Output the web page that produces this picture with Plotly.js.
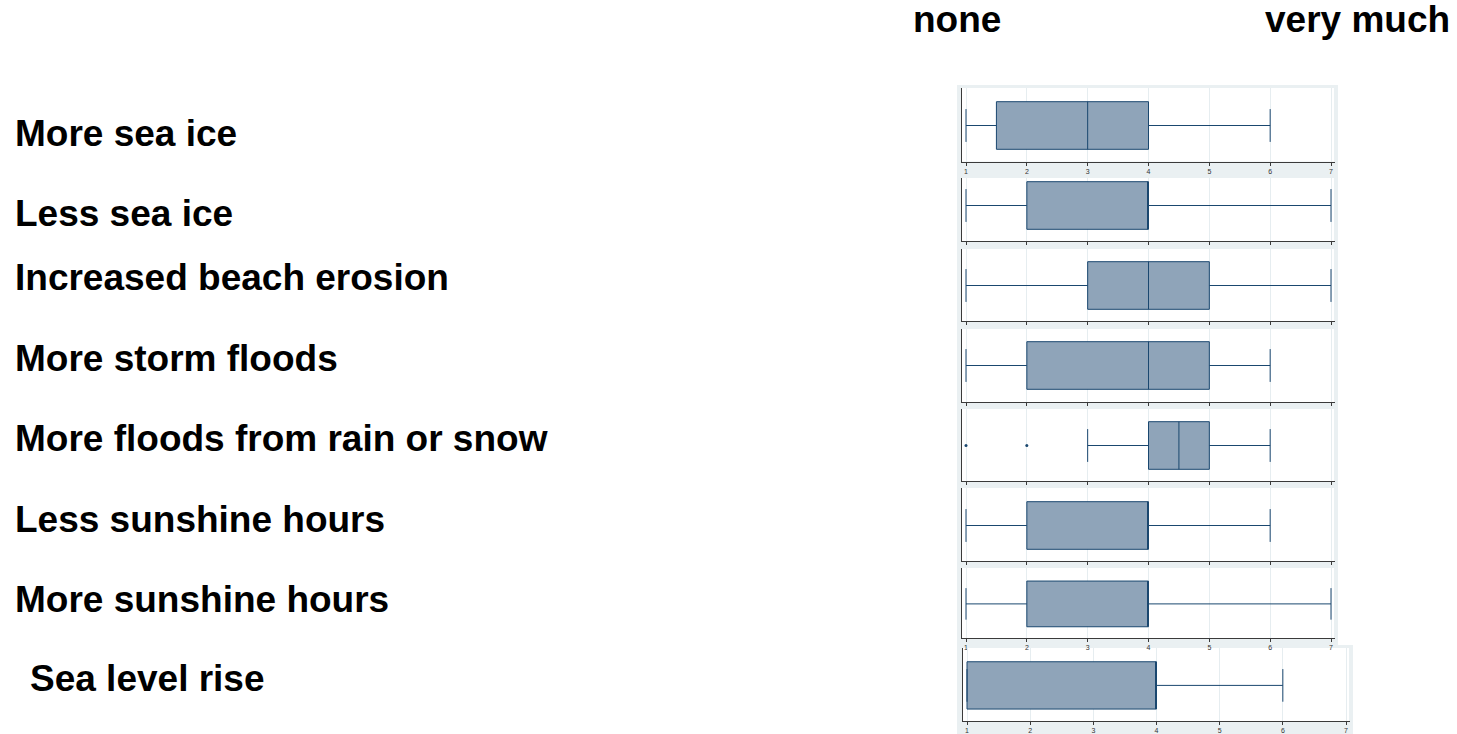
<!DOCTYPE html>
<html>
<head>
<meta charset="utf-8">
<script src="https://cdn.plot.ly/plotly-3.0.1.min.js"></script>
<style>
  html, body { margin: 0; padding: 0; background: #ffffff; }
  #chart { width: 1457px; height: 734px; }
</style>
</head>
<body>
<div id="chart"></div>
<script>
// Survey items, one small box plot per item (answer scale 1 = none ... 7 = very much)
const categories = [
  'More sea ice',
  'Less sea ice',
  'Increased beach erosion',
  'More storm floods',
  'More floods from rain or snow',
  'Less sunshine hours',
  'More sunshine hours',
  'Sea level rise'
];
const lowerFence = [1, 1, 1, 1, 3, 1, 1, 1];
const q1         = [1.5, 2, 3, 2, 4, 2, 2, 1];
const median     = [3, 4, 4, 4, 4.5, 4, 4, 4];
const q3         = [4, 4, 5, 5, 5, 4, 4, 4];
const upperFence = [6, 7, 7, 6, 6, 6, 7, 6];
const outliers   = [[], [], [], [], [1, 2], [], [], []];
const scaleTicks = [1, 2, 3, 4, 5, 6, 7];
const scaleEnds  = ['none', 'very much'];

// Page geometry (pixels)
const W = 1457, H = 734;
// per panel: plot left/right, plot top, axis-line bottom, box centre, box height, label x/y
const panels = [
  {x0: 962, x1: 1335, top: 88,  bot: 161.5, c: 125.5, h: 47.6, lx: 13, ly: 133, labels: true},
  {x0: 962, x1: 1335, top: 178, bot: 241,   c: 205.5, h: 47.6, lx: 13, ly: 213, labels: false},
  {x0: 962, x1: 1335, top: 249, bot: 321,   c: 285.5, h: 47.6, lx: 13, ly: 278, labels: false},
  {x0: 962, x1: 1335, top: 329, bot: 402,   c: 365.5, h: 47.6, lx: 13, ly: 358, labels: false},
  {x0: 962, x1: 1335, top: 409, bot: 481,   c: 445.5, h: 47.6, lx: 13, ly: 438, labels: false},
  {x0: 962, x1: 1335, top: 488, bot: 561,   c: 525.5, h: 47.6, lx: 13, ly: 519, labels: false},
  {x0: 962, x1: 1335, top: 568, bot: 638,   c: 603.9, h: 45.7, lx: 13, ly: 599, labels: true},
  {x0: 963, x1: 1350, top: 648, bot: 721,   c: 685.4, h: 47.3, lx: 28, ly: 678, labels: true}
];
// pixel position of the value 1 and 7 on each panel's scale
const scalePx = [
  [966, 1331], [966, 1331], [966, 1331], [966, 1331],
  [966, 1331], [966, 1331], [966, 1331], [967, 1346]
];

const NAVY = '#1a476f';
const FILL = '#8fa4b9';
const FRAME = '#eaf0f2';
const GRID = '#e6edf0';
const AXIS = '#3a3a3a';
const FONT = 'Liberation Sans, Arial, sans-serif';
const LABEL_SIZE = 37;

const traces = [];
const layout = {
  width: W, height: H,
  margin: {l: 0, r: 0, t: 0, b: 0},
  paper_bgcolor: '#ffffff',
  plot_bgcolor: 'rgba(0,0,0,0)',
  showlegend: false,
  font: {family: FONT, color: '#000'},
  shapes: [
    // light frame behind the stacked panels
    {type: 'rect', xref: 'paper', yref: 'paper', layer: 'below',
     x0: 957 / W, x1: 1338 / W, y0: 1 - 645 / H, y1: 1 - 85 / H,
     fillcolor: FRAME, line: {width: 0}},
    {type: 'rect', xref: 'paper', yref: 'paper', layer: 'below',
     x0: 957 / W, x1: 1353 / W, y0: 0, y1: 1 - 645 / H,
     fillcolor: FRAME, line: {width: 0}}
  ],
  annotations: []
};

panels.forEach((p, i) => {
  const n = i + 1;
  const xa = 'xaxis' + (n === 1 ? '' : n);
  const ya = 'yaxis' + (n === 1 ? '' : n);
  const xr = 'x' + (n === 1 ? '' : n);
  const yr = 'y' + (n === 1 ? '' : n);
  const [p1, p7] = scalePx[i];
  const unit = (p7 - p1) / 6;

  // white plotting area of the panel
  layout.shapes.push({
    type: 'rect', xref: 'paper', yref: 'paper', layer: 'below',
    x0: p.x0 / W, x1: (p.x1 - 1) / W, y0: 1 - p.bot / H, y1: 1 - p.top / H,
    fillcolor: '#ffffff', line: {width: 0}
  });

  traces.push({
    type: 'box',
    orientation: 'h',
    y: [0],
    q1: [q1[i]],
    median: [median[i]],
    q3: [q3[i]],
    lowerfence: [lowerFence[i]],
    upperfence: [upperFence[i]],
    boxpoints: false,
    width: p.h,
    whiskerwidth: 0.69,
    fillcolor: FILL,
    line: {color: NAVY, width: 1},
    xaxis: xr, yaxis: yr,
    hoverinfo: 'skip'
  });

  if (outliers[i].length) {
    traces.push({
      type: 'scatter',
      mode: 'markers',
      x: outliers[i],
      y: outliers[i].map(() => 0),
      marker: {color: NAVY, size: 3, symbol: 'circle'},
      xaxis: xr, yaxis: yr,
      hoverinfo: 'skip'
    });
  }

  layout[xa] = {
    domain: [p.x0 / W, p.x1 / W],
    range: [1 - (p1 - p.x0) / unit, 7 + (p.x1 - p7) / unit],
    anchor: yr,
    tickvals: scaleTicks,
    ticktext: scaleTicks.map(String),
    showticklabels: p.labels,
    tickfont: {size: 7, color: '#333', family: FONT},
    ticks: 'outside', ticklen: 3, tickwidth: 1, tickcolor: AXIS,
    showgrid: true, gridcolor: GRID, gridwidth: 1,
    showline: true, linecolor: AXIS, linewidth: 1,
    zeroline: false, fixedrange: true
  };
  layout[ya] = {
    domain: [1 - p.bot / H, 1 - p.top / H],
    range: [-(p.bot - p.c), p.c - p.top],
    anchor: xr,
    showticklabels: false, ticks: '',
    showgrid: false, zeroline: false,
    showline: true, linecolor: AXIS, linewidth: 1,
    fixedrange: true
  };

  layout.annotations.push({
    xref: 'paper', yref: 'paper',
    x: p.lx / W, y: 1 - p.ly / H,
    xanchor: 'left', yanchor: 'middle',
    text: '<b>' + categories[i] + '</b>',
    showarrow: false,
    font: {size: LABEL_SIZE, family: FONT, color: '#000'}
  });
});

// scale end labels above the panels
layout.annotations.push(
  {xref: 'paper', yref: 'paper', x: 957 / W, y: 1 - 20 / H,
   xanchor: 'center', yanchor: 'middle', showarrow: false,
   text: '<b>' + scaleEnds[0] + '</b>', font: {size: LABEL_SIZE, family: FONT, color: '#000'}},
  {xref: 'paper', yref: 'paper', x: 1357 / W, y: 1 - 20 / H,
   xanchor: 'center', yanchor: 'middle', showarrow: false,
   text: '<b>' + scaleEnds[1] + '</b>', font: {size: LABEL_SIZE, family: FONT, color: '#000'}}
);

Plotly.newPlot('chart', traces, layout, {staticPlot: true, displayModeBar: false});
</script>
</body>
</html>
